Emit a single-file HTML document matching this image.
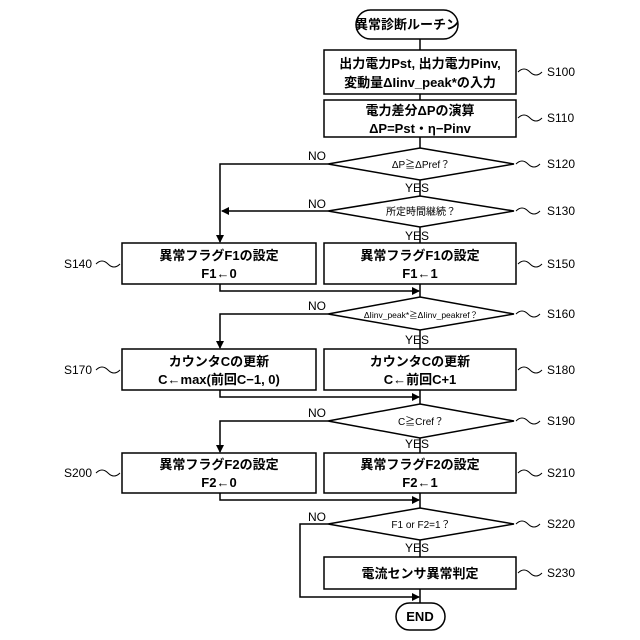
<!DOCTYPE html>
<html><head><meta charset="utf-8"><style>
html,body{margin:0;padding:0;background:#fff}
svg{display:block}
text{font-family:"Liberation Sans","Noto Sans CJK JP",sans-serif;fill:#000}
.b{font-size:13px;font-weight:bold}
.d{font-size:10px}
.l{font-size:12px}
</style></head><body>
<svg width="640" height="640" viewBox="0 0 640 640" xmlns="http://www.w3.org/2000/svg">
<defs><marker id="a" markerWidth="8" markerHeight="8" refX="7" refY="4" orient="auto" markerUnits="userSpaceOnUse"><path d="M0,0 L8,4 L0,8 z" fill="#000"/></marker></defs>
<g fill="none" stroke="#000" stroke-width="1.5">
<rect x="356" y="10" width="102" height="29" rx="14.5"/>
<line x1="420" y1="39" x2="420" y2="50"/>
<rect x="324" y="50" width="192" height="44"/>
<line x1="420" y1="94" x2="420" y2="100"/>
<rect x="324" y="100" width="192" height="37"/>
<line x1="420" y1="137" x2="420" y2="148"/>
<polygon points="420,148 514,164 420,180 328,164"/>
<line x1="420" y1="180" x2="420" y2="196"/>
<polygon points="420,196 514,211 420,227 328,211"/>
<line x1="420" y1="227" x2="420" y2="243"/>
<polyline points="328,164 220,164 220,242" marker-end="url(#a)"/>
<line x1="328" y1="211" x2="222" y2="211" marker-end="url(#a)"/>
<rect x="122" y="243" width="194" height="41"/>
<rect x="324" y="243" width="192" height="41"/>
<polyline points="220,284 220,291 419,291" marker-end="url(#a)"/>
<line x1="420" y1="284" x2="420" y2="297"/>
<polygon points="420,297 514,314 420,330 328,314"/>
<line x1="420" y1="330" x2="420" y2="349"/>
<polyline points="328,314 220,314 220,348" marker-end="url(#a)"/>
<rect x="122" y="349" width="194" height="41"/>
<rect x="324" y="349" width="192" height="41"/>
<polyline points="220,390 220,397 419,397" marker-end="url(#a)"/>
<line x1="420" y1="390" x2="420" y2="404"/>
<polygon points="420,404 514,421 420,438 328,421"/>
<line x1="420" y1="438" x2="420" y2="453"/>
<polyline points="328,421 220,421 220,452" marker-end="url(#a)"/>
<rect x="122" y="453" width="194" height="40"/>
<rect x="324" y="453" width="192" height="40"/>
<polyline points="220,493 220,500 419,500" marker-end="url(#a)"/>
<line x1="420" y1="493" x2="420" y2="508"/>
<polygon points="420,508 514,524 420,540 328,524"/>
<line x1="420" y1="540" x2="420" y2="557"/>
<rect x="324" y="557" width="192" height="32"/>
<polyline points="328,524 300,524 300,597 419,597" marker-end="url(#a)"/>
<line x1="420" y1="589" x2="420" y2="603"/>
<rect x="396" y="603" width="49" height="27" rx="13.5"/>
</g>
<g fill="none" stroke="#000" stroke-width="1">
<path d="M518,72 q6,-6 12,0 t12,0"/>
<path d="M518,118 q6,-6 12,0 t12,0"/>
<path d="M516,164 q6,-6 12,0 t12,0"/>
<path d="M516,211 q6,-6 12,0 t12,0"/>
<path d="M518,264 q6,-6 12,0 t12,0"/>
<path d="M516,314 q6,-6 12,0 t12,0"/>
<path d="M518,370 q6,-6 12,0 t12,0"/>
<path d="M516,421 q6,-6 12,0 t12,0"/>
<path d="M518,473 q6,-6 12,0 t12,0"/>
<path d="M516,524 q6,-6 12,0 t12,0"/>
<path d="M518,573 q6,-6 12,0 t12,0"/>
<path d="M96,264 q6,-6 12,0 t12,0"/>
<path d="M96,370 q6,-6 12,0 t12,0"/>
<path d="M96,473 q6,-6 12,0 t12,0"/>
</g>
<g text-anchor="middle">
<text class="b" x="407" y="29">異常診断ルーチン</text>
<text class="b" x="420" y="68">出力電力Pst, 出力電力Pinv,</text>
<text class="b" x="420" y="87">変動量ΔIinv_peak*の入力</text>
<text class="b" x="420" y="115">電力差分ΔPの演算</text>
<text class="b" x="420" y="133">ΔP=Pst・η−Pinv</text>
<text class="d" x="421" y="168">ΔP≧ΔPref？</text>
<text class="d" x="421" y="215">所定時間継続？</text>
<text class="b" x="219" y="260">異常フラグF1の設定</text>
<text class="b" x="219" y="278">F1←0</text>
<text class="b" x="420" y="260">異常フラグF1の設定</text>
<text class="b" x="420" y="278">F1←1</text>
<text class="d" x="421" y="318" style="font-size:8.5px">ΔIinv_peak*≧ΔIinv_peakref？</text>
<text class="b" x="219" y="366">カウンタCの更新</text>
<text class="b" x="219" y="384">C←max(前回C−1, 0)</text>
<text class="b" x="420" y="366">カウンタCの更新</text>
<text class="b" x="420" y="384">C←前回C+1</text>
<text class="d" x="421" y="425">C≧Cref？</text>
<text class="b" x="219" y="469">異常フラグF2の設定</text>
<text class="b" x="219" y="487">F2←0</text>
<text class="b" x="420" y="469">異常フラグF2の設定</text>
<text class="b" x="420" y="487">F2←1</text>
<text class="d" x="421" y="528">F1 or F2=1？</text>
<text class="b" x="420" y="578">電流センサ異常判定</text>
<text class="b" x="420" y="621">END</text>
</g>
<g class="l">
<text x="405" y="192">YES</text>
<text x="405" y="240">YES</text>
<text x="405" y="344">YES</text>
<text x="405" y="448">YES</text>
<text x="405" y="552">YES</text>
<text x="308" y="160">NO</text>
<text x="308" y="208">NO</text>
<text x="308" y="310">NO</text>
<text x="308" y="417">NO</text>
<text x="308" y="521">NO</text>
<text x="547" y="76">S100</text>
<text x="547" y="122">S110</text>
<text x="547" y="168">S120</text>
<text x="547" y="215">S130</text>
<text x="547" y="268">S150</text>
<text x="547" y="318">S160</text>
<text x="547" y="374">S180</text>
<text x="547" y="425">S190</text>
<text x="547" y="477">S210</text>
<text x="547" y="528">S220</text>
<text x="547" y="577">S230</text>
<text x="64" y="268">S140</text>
<text x="64" y="374">S170</text>
<text x="64" y="477">S200</text>
</g>
</svg>
</body></html>
